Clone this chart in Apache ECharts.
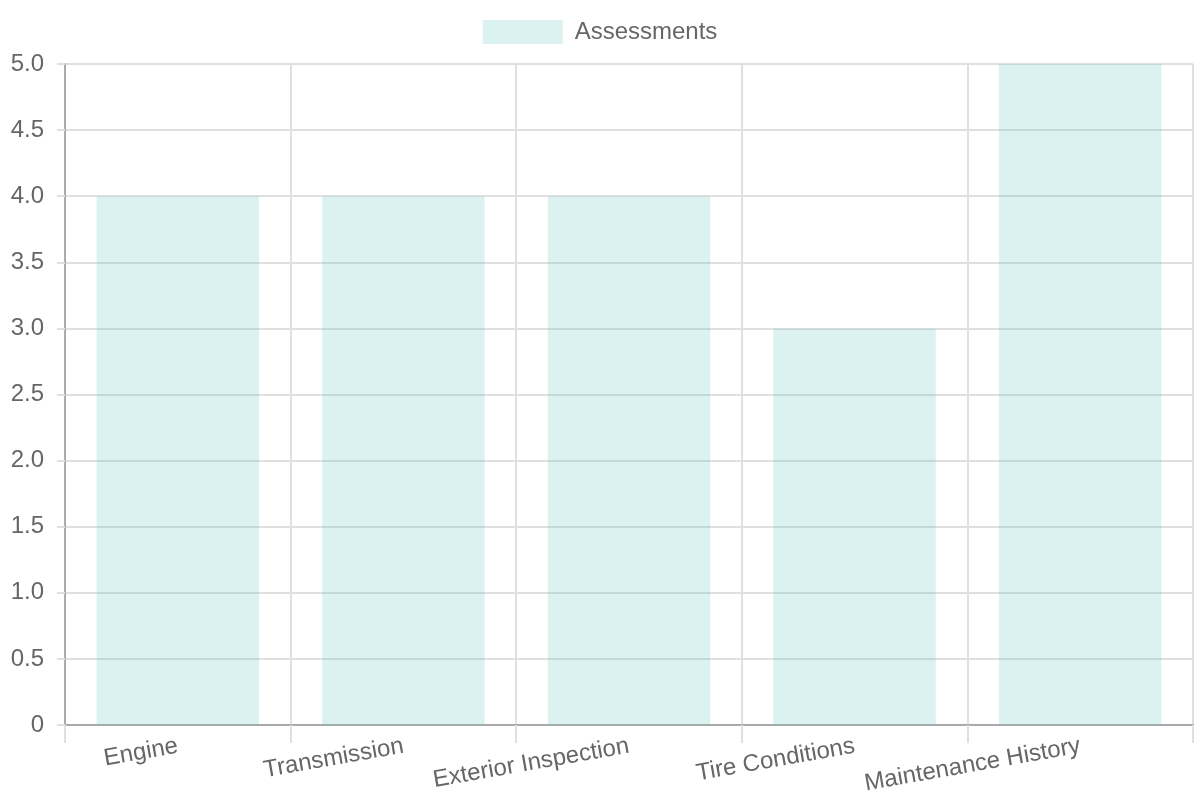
<!DOCTYPE html>
<html>
<head>
<meta charset="utf-8">
<script src="https://cdn.jsdelivr.net/npm/echarts@6/dist/echarts.min.js"></script>
<style>
html,body{margin:0;padding:0;background:#fff;}
#chart{width:1200px;height:800px;}
</style>
</head>
<body>
<div id="chart"></div>
<script>
const categories = ["Engine", "Transmission", "Exterior Inspection", "Tire Conditions", "Maintenance History"];
const seriesName = "Assessments";
const assessments = [4, 4, 4, 3, 5];
const yMin = 0, yMax = 5, yStep = 0.5;

const chart = echarts.init(document.getElementById('chart'));
const font = 'Liberation Sans, Arial, sans-serif';
chart.setOption({
  animation: false,
  textStyle: { fontFamily: font },
  legend: {
    top: 15,
    left: 'center',
    itemWidth: 80,
    itemHeight: 24,
    icon: 'rect',
    data: [seriesName],
    textStyle: { fontSize: 24, color: '#666', fontFamily: font, padding: [0, 0, 0, 7] }
  },
  grid: { left: 65, right: 7, top: 64, bottom: 75, containLabel: false },
  xAxis: {
    type: 'category',
    data: categories,
    boundaryGap: true,
    axisLine: { show: true, lineStyle: { color: '#aaa', width: 2 } },
    axisTick: { show: true, length: 18, alignWithLabel: false, lineStyle: { color: '#e0e0e0', width: 2 } },
    axisLabel: { rotate: 10, fontSize: 24, color: '#666', margin: 21, fontFamily: font, interval: 0 },
    splitLine: { show: true, interval: 0, lineStyle: { color: '#e0e0e0', width: 2 } }
  },
  yAxis: {
    type: 'value',
    min: yMin, max: yMax, interval: yStep,
    axisLine: { show: true, lineStyle: { color: '#aaa', width: 2 } },
    axisTick: { show: true, length: 8, lineStyle: { color: '#e0e0e0', width: 2 } },
    axisLabel: {
      fontSize: 24, color: '#666', margin: 21, fontFamily: font,
      formatter: v => v === 0 ? '0' : v.toFixed(1)
    },
    splitLine: { show: true, lineStyle: { color: '#e0e0e0', width: 2 } }
  },
  series: [{
    name: seriesName,
    type: 'bar',
    data: assessments,
    barWidth: '72%',
    itemStyle: { color: 'rgba(75,192,180,0.2)' }
  }]
});
</script>
</body>
</html>
